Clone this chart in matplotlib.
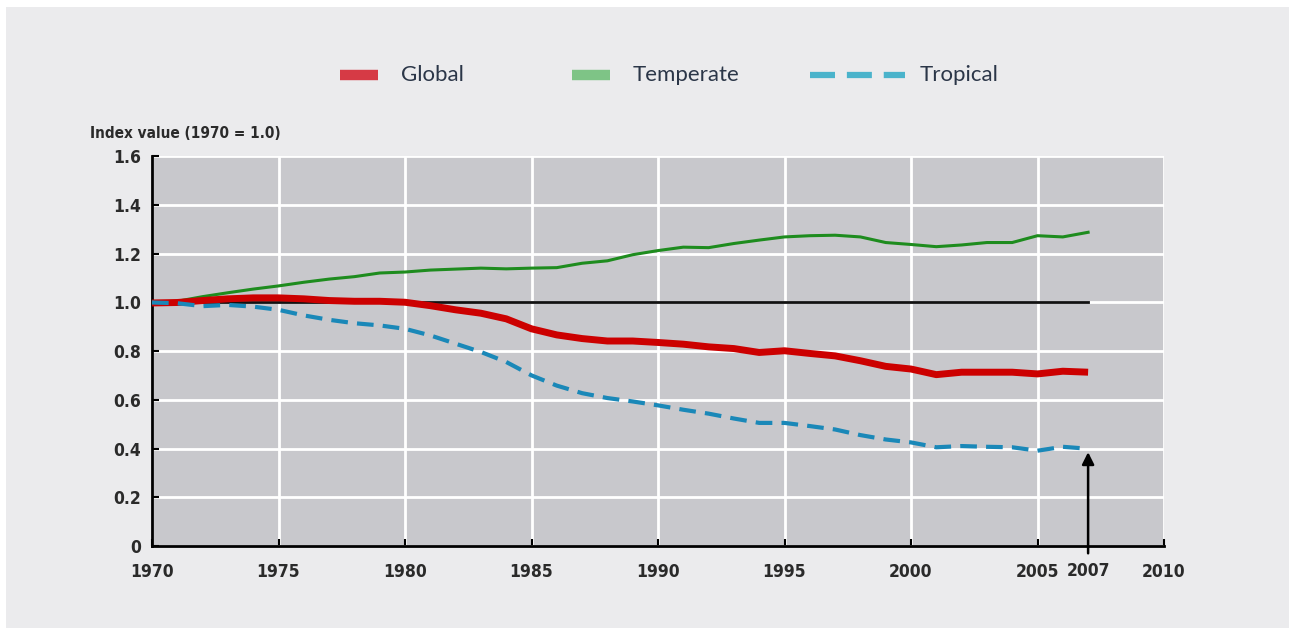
import matplotlib.pyplot as plt
from matplotlib.patches import Rectangle
from matplotlib.lines import Line2D

years = list(range(1970, 2008))

temperate = [1.000, 1.004, 1.023, 1.039, 1.054, 1.067, 1.082, 1.095, 1.105, 1.120,
             1.124, 1.132, 1.136, 1.140, 1.137, 1.140, 1.142, 1.160, 1.170, 1.195,
             1.212, 1.226, 1.224, 1.241, 1.255, 1.268, 1.273, 1.275, 1.268, 1.245,
             1.237, 1.228, 1.235, 1.245, 1.245, 1.273, 1.268, 1.287]

glob = [0.997, 0.999, 1.007, 1.014, 1.018, 1.018, 1.014, 1.007, 1.004, 1.004,
        1.000, 0.986, 0.969, 0.955, 0.932, 0.891, 0.866, 0.851, 0.841, 0.841,
        0.835, 0.828, 0.817, 0.810, 0.794, 0.801, 0.790, 0.780, 0.760, 0.737,
        0.726, 0.703, 0.713, 0.713, 0.713, 0.706, 0.717, 0.713]

tropical = [0.999, 0.996, 0.984, 0.989, 0.982, 0.969, 0.946, 0.928, 0.914, 0.905,
            0.891, 0.864, 0.830, 0.796, 0.755, 0.700, 0.658, 0.627, 0.607, 0.593,
            0.577, 0.559, 0.543, 0.523, 0.505, 0.505, 0.492, 0.478, 0.455, 0.437,
            0.425, 0.405, 0.410, 0.407, 0.405, 0.391, 0.407, 0.399]

xticks = [1970, 1975, 1980, 1985, 1990, 1995, 2000, 2005, 2010]
yticks = [0, 0.2, 0.4, 0.6, 0.8, 1.0, 1.2, 1.4, 1.6]
ylabels = ['0', '0.2', '0.4', '0.6', '0.8', '1.0', '1.2', '1.4', '1.6']

W, H = 1289, 628
fig = plt.figure(figsize=(W / 100, H / 100), dpi=100)
fig.patch.set_facecolor('white')
fig.patches.append(Rectangle((6 / W, 0), 1, 1 - 7 / H, transform=fig.transFigure,
                             facecolor='#ebebed', edgecolor='none', zorder=-10))

ax = fig.add_axes([152 / W, 82 / H, 1012 / W, 390 / H])
ax.set_facecolor('#c8c8cc')

tick_font = dict(family='DejaVu Sans', stretch='condensed', weight='bold',
                 size=12.5, color='#2a2a2a')

ax.set_xlim(1970, 2010)
ax.set_ylim(0, 1.6)
ax.set_xticks(xticks)
ax.set_xticklabels([str(x) for x in xticks], fontdict=tick_font)
ax.set_yticks(yticks)
ax.set_yticklabels(ylabels, fontdict=tick_font)
ax.tick_params(direction='in', length=5, width=1.5, color='black', pad=8)
ax.tick_params(axis='x', pad=12)
ax.text(2007, -0.066, '2007', ha='center', va='top', fontdict=tick_font)

ax.grid(True, color='white', linewidth=2)
ax.set_axisbelow(True)
for s in ['top', 'right']:
    ax.spines[s].set_visible(False)
for s in ['left', 'bottom']:
    ax.spines[s].set_linewidth(2)
    ax.spines[s].set_color('black')

ax.plot([1970, 2007], [1.0, 1.0], color='#111111', linewidth=2, zorder=3)
ax.plot(years, temperate, color='#1e8c1e', linewidth=2.2, zorder=4)
ax.plot(years, glob, color='#cc0000', linewidth=5, zorder=5, solid_capstyle='butt')
ax.plot(years, tropical, color='#1a88b8', linewidth=3, dashes=(4, 2.2), zorder=6)

ax.annotate('', xy=(2007, 0.385), xytext=(2007, -0.03),
            arrowprops=dict(arrowstyle='-|>', color='black', lw=1.8,
                            mutation_scale=18, shrinkA=0, shrinkB=0),
            annotation_clip=False, zorder=7)

fig.text(90 / W, 1 - 133 / H, 'Index value (1970 = 1.0)', ha='left', va='center',
         family='DejaVu Sans', stretch='condensed', weight='bold', size=11,
         color='#2a2a2a')

# legend drawn by hand in figure coordinates
leg_y = 1 - 75 / H
leg_font = dict(family=['Lato', 'DejaVu Sans'], size=16, color='#2b3648')
fig.lines.append(Line2D([340 / W, 378 / W], [leg_y, leg_y], transform=fig.transFigure,
                        color='#d63a45', linewidth=7.5, solid_capstyle='butt'))
fig.text(401 / W, leg_y, 'Global', ha='left', va='center', **leg_font)
fig.lines.append(Line2D([572 / W, 610 / W], [leg_y, leg_y], transform=fig.transFigure,
                        color='#7ec486', linewidth=7.5, solid_capstyle='butt'))
fig.text(633 / W, leg_y, 'Temperate', ha='left', va='center', **leg_font)
fig.lines.append(Line2D([810 / W, 905 / W], [leg_y, leg_y], transform=fig.transFigure,
                        color='#4ab3cb', linewidth=4.5, dashes=(4, 1.9),
                        solid_capstyle='butt'))
fig.text(920 / W, leg_y, 'Tropical', ha='left', va='center', **leg_font)

fig.savefig('out.png', dpi=100, facecolor=fig.get_facecolor())
